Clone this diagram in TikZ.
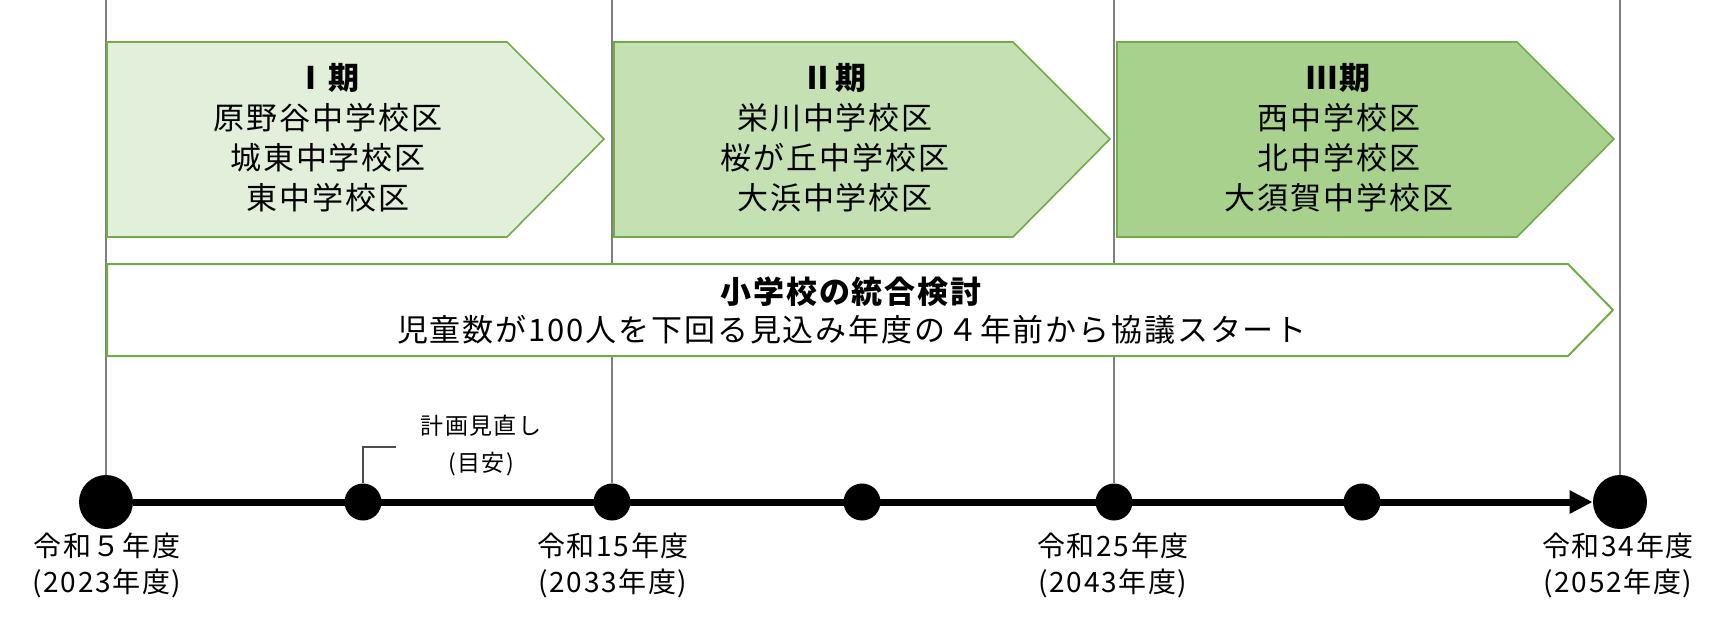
\documentclass[tikz,border=0pt]{standalone}
\usepackage{fontspec}
\setmainfont{Noto Sans CJK JP}[LetterSpace=6]
\usetikzlibrary{arrows.meta}

\definecolor{phaseone}{HTML}{E2EFDA}
\definecolor{phasetwo}{HTML}{C5E0B3}
\definecolor{phasethree}{HTML}{A9D18E}
\definecolor{framegreen}{HTML}{70AD47}
\definecolor{guidegray}{HTML}{7F7F7F}

\begin{document}
\begin{tikzpicture}[x=0.5pt,y=-0.5pt,
  bigdot/.style={circle,fill=black,inner sep=0pt,minimum size=27pt},
  smalldot/.style={circle,fill=black,inner sep=0pt,minimum size=18.5pt},
  guide/.style={draw=guidegray,line width=0.7pt},
  phase/.style={draw=framegreen,line width=0.8pt},
  boxtext/.style={align=center,font=\fontsize{15.5}{20}\selectfont},
  yeartext/.style={align=center,font=\fontsize{14}{18}\selectfont}]
\useasboundingbox (0,0) rectangle (1725,623);
% timeline points
\node[bigdot] (t0) at (106,502) {};
\node[smalldot] (t1) at (363,502) {};
\node[smalldot] (t2) at (612,502) {};
\node[smalldot] (t3) at (862,502) {};
\node[smalldot] (t4) at (1114,502) {};
\node[smalldot] (t5) at (1362,502) {};
\node[bigdot] (t6) at (1620,502) {};
% guide lines from the top edge
\coordinate (g0) at (106,0);
\coordinate (g2) at (612,0);
\coordinate (g4) at (1114,0);
\coordinate (g6) at (1620,0);
\draw[guide] (g0) -- (t0.north);
\draw[guide] (g2) -- (t2.north);
\draw[guide] (g4) -- (t4.north);
\draw[guide] (g6) -- (t6.north);
% phases
\draw[phase,fill=phaseone] (107,42) -- (507,42) -- (604,139) -- (507,237) -- (107,237) -- cycle;
\draw[phase,fill=phasetwo] (614,42) -- (1013,42) -- (1110,139) -- (1013,237) -- (614,237) -- cycle;
\draw[phase,fill=phasethree] (1117,42) -- (1517,42) -- (1614,139) -- (1517,237) -- (1117,237) -- cycle;
\node[boxtext] (p1) at (328,138) {\textbf{Ⅰ期}\\原野谷中学校区\\城東中学校区\\東中学校区};
\node[boxtext] (p2) at (835,138) {\textbf{Ⅱ期}\\栄川中学校区\\桜が丘中学校区\\大浜中学校区};
\node[boxtext] (p3) at (1339,138) {\textbf{Ⅲ期}\\西中学校区\\北中学校区\\大須賀中学校区};
% elementary schools
\draw[phase,line width=1pt,fill=white] (107,264) -- (1568,264) -- (1613,310) -- (1568,356) -- (107,356) -- cycle;
\node[boxtext,font=\fontsize{15.5}{19}\selectfont] (plan) at (852,311) {\textbf{小学校の統合検討}\\児童数が100人を下回る見込み年度の４年前から協議スタート};
% timeline
\draw[line width=3.5pt,-{Triangle[length=11.5pt,width=11pt]}] (t0.east) -- (t6.west);
\node[yeartext] (y0) at (107,565) {令和５年度\\(2023年度)};
\node[yeartext] (y2) at (613,565) {令和15年度\\(2033年度)};
\node[yeartext] (y4) at (1113,565) {令和25年度\\(2043年度)};
\node[yeartext] (y6) at (1618,565) {令和34年度\\(2052年度)};
\node[align=center,font=\fontsize{11.5}{18.5}\selectfont] (review) at (481,446) {計画見直し\\(目安)};
\coordinate (lead) at (396,447);
\draw[black!70,line width=0.6pt] (t1.north) |- (lead);
\end{tikzpicture}
\end{document}
